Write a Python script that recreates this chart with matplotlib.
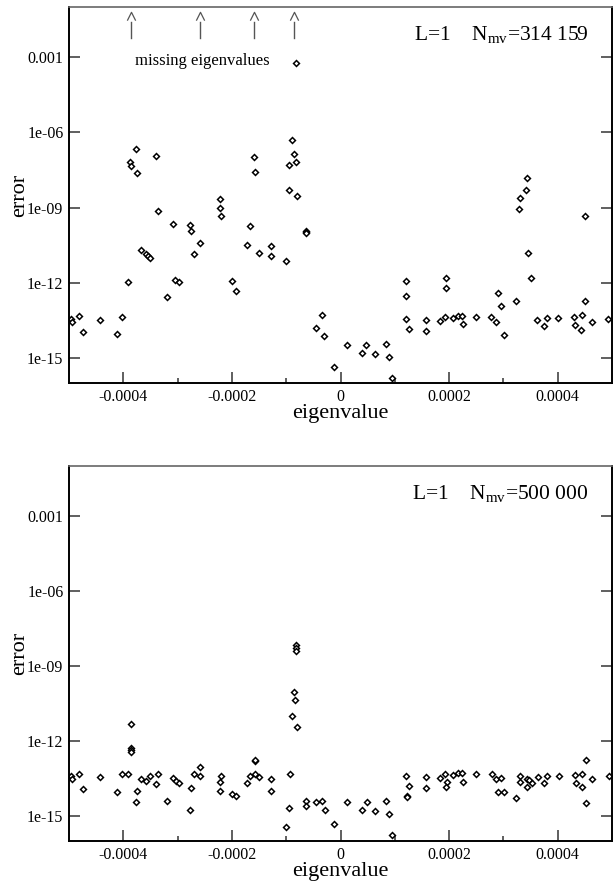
import numpy as np
import matplotlib
matplotlib.use('Agg')
import matplotlib.pyplot as plt
from matplotlib.path import Path
from matplotlib.ticker import FixedLocator, NullLocator
import matplotlib.transforms as mtransforms

plt.rcParams['font.family'] = ['Liberation Serif', 'DejaVu Serif']
plt.rcParams['mathtext.fontset'] = 'custom'
plt.rcParams['mathtext.rm'] = 'Liberation Serif'
plt.rcParams['axes.unicode_minus'] = False

# top panel, N_mv = 314 159
eig_top = [-8.24e-5, -3.76e-4, -3.39e-4, -3.87e-4, -3.86e-4, -3.75e-4, -1.60e-4, -1.58e-4,
           -8.85e-5, -8.48e-5, -8.24e-5, -9.40e-5, -9.50e-5, -8.00e-5, -2.21e-4, 3.43e-4,
           3.42e-4, 3.30e-4, -2.22e-4, -2.20e-4, -3.37e-4, -3.09e-4, -2.78e-4, -2.76e-4,
           -2.59e-4, -2.70e-4, -1.66e-4, -1.73e-4, -1.51e-4, -1.28e-4, -1.28e-4, -1.01e-4,
           -6.4e-5, -6.4e-5, -6.4e-5, -3.67e-4, -3.58e-4, -3.54e-4, -3.51e-4, -3.91e-4,
           -3.05e-4, -2.97e-4, -3.19e-4, -2.00e-4, -1.93e-4, -4.97e-4, -4.94e-4, -4.81e-4,
           -4.74e-4, -4.43e-4, -4.02e-4, -4.12e-4, -4.42e-5, -3.44e-5, -2.95e-5, -1.23e-5,
           1.23e-5, 3.93e-5, 4.73e-5, 6.39e-5, 8.35e-5, 8.9e-5, 9.4e-5, 1.21e-4,
           1.20e-4, 1.20e-4, 1.26e-4, 1.57e-4, 1.58e-4, 1.84e-4, 1.92e-4, 1.94e-4,
           1.95e-4, 2.07e-4, 2.16e-4, 2.23e-4, 2.26e-4, 2.49e-4, 2.78e-4, 2.86e-4,
           2.90e-4, 2.95e-4, 3.01e-4, 3.23e-4, 3.29e-4, 3.46e-4, 3.51e-4, 3.62e-4,
           3.74e-4, 3.81e-4, 4.01e-4, 4.30e-4, 4.32e-4, 4.45e-4, 4.42e-4, 4.51e-4,
           4.50e-4, 4.64e-4, 4.93e-4]
err_top = [6.0e-4, 2.2e-7, 1.17e-7, 6.3e-8, 4.4e-8, 2.3e-8, 1.05e-7, 2.5e-8,
           5.0e-7, 1.38e-7, 6.3e-8, 4.8e-8, 5.2e-9, 3.0e-9, 2.1e-9, 1.55e-8,
           5.0e-9, 2.45e-9, 9.5e-10, 4.4e-10, 7.1e-10, 2.3e-10, 2.0e-10, 1.17e-10,
           4.0e-11, 1.38e-11, 1.8e-10, 3.3e-11, 1.58e-11, 2.95e-11, 1.15e-11, 7.4e-12,
           1.15e-10, 1.07e-10, 1.0e-10, 2.1e-11, 1.45e-11, 1.2e-11, 9.8e-12, 1.07e-12,
           1.26e-12, 1.1e-12, 2.75e-13, 1.15e-12, 4.7e-13, 3.6e-14, 2.8e-14, 4.6e-14,
           1.1e-14, 3.2e-14, 4.3e-14, 8.9e-15, 1.55e-14, 5.1e-14, 7.6e-15, 4.4e-16,
           3.3e-15, 1.55e-15, 3.3e-15, 1.5e-15, 3.6e-15, 1.1e-15, 1.55e-16, 1.2e-12,
           2.9e-13, 3.5e-14, 1.4e-14, 1.17e-14, 3.3e-14, 3.0e-14, 4.4e-14, 1.58e-12,
           6.3e-13, 3.8e-14, 4.6e-14, 4.6e-14, 2.2e-14, 4.3e-14, 4.3e-14, 2.75e-14,
           3.8e-13, 1.23e-13, 8.1e-15, 1.9e-13, 8.9e-10, 1.58e-11, 1.6e-12, 3.3e-14,
           1.86e-14, 3.8e-14, 3.8e-14, 4.2e-14, 2.0e-14, 5.1e-14, 1.3e-14, 1.86e-13,
           4.4e-10, 2.75e-14, 3.7e-14]

# bottom panel, N_mv = 500 000
eig_bot = [-4.97e-4, -4.94e-4, -4.81e-4, -4.74e-4, -4.43e-4, -4.12e-4, -4.02e-4, -3.91e-4,
           -3.85e-4, -3.86e-4, -3.85e-4, -3.85e-4, -3.75e-4, -3.76e-4, -3.67e-4, -3.58e-4,
           -3.51e-4, -3.37e-4, -3.39e-4, -3.19e-4, -3.09e-4, -3.03e-4, -2.97e-4, -2.78e-4,
           -2.76e-4, -2.70e-4, -2.59e-4, -2.59e-4, -2.21e-4, -2.21e-4, -2.20e-4, -2.00e-4,
           -1.93e-4, -1.73e-4, -1.66e-4, -1.58e-4, -1.58e-4, -1.57e-4, -1.51e-4, -1.28e-4,
           -1.28e-4, -1.01e-4, -9.34e-5, -9.52e-5, -8.24e-5, -8.24e-5, -8.11e-5, -8.60e-5,
           -8.42e-5, -8.85e-5, -7.98e-5, -6.40e-5, -6.40e-5, -4.42e-5, -3.32e-5, -2.89e-5,
           -1.23e-5, 1.23e-5, 4.0e-5, 4.79e-5, 6.39e-5, 8.42e-5, 8.9e-5, 9.4e-5,
           1.20e-4, 1.22e-4, 1.23e-4, 1.27e-4, 1.58e-4, 1.57e-4, 1.84e-4, 1.92e-4,
           1.96e-4, 1.95e-4, 2.07e-4, 2.16e-4, 2.24e-4, 2.26e-4, 2.50e-4, 2.79e-4,
           2.86e-4, 2.96e-4, 2.90e-4, 3.02e-4, 3.23e-4, 3.30e-4, 3.30e-4, 3.43e-4,
           3.44e-4, 3.48e-4, 3.53e-4, 3.63e-4, 3.75e-4, 3.81e-4, 4.02e-4, 4.31e-4,
           4.34e-4, 4.45e-4, 4.44e-4, 4.52e-4, 4.52e-4, 4.64e-4, 4.95e-4]
err_bot = [3.9e-14, 2.95e-14, 4.8e-14, 1.17e-14, 3.5e-14, 9.3e-15, 4.7e-14, 4.7e-14,
           4.9e-12, 5.1e-13, 4.3e-13, 3.5e-13, 1.0e-14, 3.5e-15, 3.0e-14, 2.6e-14,
           4.1e-14, 4.9e-14, 1.9e-14, 3.9e-15, 3.4e-14, 2.5e-14, 2.1e-14, 1.8e-15,
           1.3e-14, 4.8e-14, 4.1e-14, 9.3e-14, 1.0e-14, 2.3e-14, 3.9e-14, 7.4e-15,
           6.3e-15, 2.1e-14, 4.0e-14, 1.6e-13, 1.8e-13, 4.8e-14, 3.6e-14, 3.1e-14,
           1.0e-14, 3.6e-16, 4.9e-14, 2.1e-15, 7.1e-9, 5.4e-9, 4.1e-9, 8.9e-11,
           4.3e-11, 1.02e-11, 3.6e-12, 4.0e-15, 2.6e-15, 3.5e-15, 4.0e-15, 1.8e-15,
           4.9e-16, 3.6e-15, 1.7e-15, 3.6e-15, 1.6e-15, 4.0e-15, 1.2e-15, 1.7e-16,
           3.9e-14, 6.3e-15, 5.6e-15, 1.55e-14, 3.6e-14, 1.3e-14, 3.3e-14, 4.8e-14,
           2.3e-14, 1.4e-14, 4.3e-14, 5.1e-14, 5.1e-14, 2.3e-14, 4.8e-14, 4.8e-14,
           3.0e-14, 3.2e-14, 9.1e-15, 9.1e-15, 5.2e-15, 3.9e-14, 2.2e-14, 1.5e-14,
           2.95e-14, 2.75e-14, 2.1e-14, 3.7e-14, 2.0e-14, 4.1e-14, 4.1e-14, 4.5e-14,
           2.1e-14, 4.7e-14, 1.4e-14, 1.8e-13, 3.4e-15, 2.95e-14, 4.0e-14]

# positions of the missing eigenvalues (arrows in top panel)
missing_eig = [-3.85e-4, -2.59e-4, -1.60e-4, -8.5e-5]

xticks = [-0.0004, -0.0002, 0, 0.0002, 0.0004]
xtick_labels = ['-0.0004', '-0.0002', '0', '0.0002', '0.0004']
xminor = [-0.0003, -0.0001, 0.0001, 0.0003]
yticks = [1e-15, 1e-12, 1e-9, 1e-6, 1e-3]
ytick_labels = ['1e-15', '1e-12', '1e-09', '1e-06', '0.001']

labels = [r'L=1    N$_{\mathrm{mv}}$=314 159', r'L=1    N$_{\mathrm{mv}}$=500 000']

fig = plt.figure(figsize=(6.14, 8.82), dpi=100)
ax1 = fig.add_axes([69/614, 1-383/882, 543/614, 376/882])
ax2 = fig.add_axes([69/614, 1-841/882, 543/614, 375/882])

for ax, xs, ys, lab in [(ax1, eig_top, err_top, labels[0]), (ax2, eig_bot, err_bot, labels[1])]:
    ax.plot(xs, ys, linestyle='none', marker='D', markersize=3.0,
            markerfacecolor='white', markeredgecolor='black', markeredgewidth=1.1)
    ax.set_yscale('log')
    ax.set_xlim(-0.0005, 0.0005)
    ax.set_ylim(1e-16, 1e-1)
    ax.xaxis.set_major_locator(FixedLocator(xticks))
    ax.set_xticklabels(xtick_labels)
    ax.xaxis.set_minor_locator(FixedLocator(xminor))
    ax.yaxis.set_major_locator(FixedLocator(yticks))
    ax.set_yticklabels(ytick_labels)
    ax.yaxis.set_minor_locator(NullLocator())
    ax.tick_params(axis='both', which='major', direction='in', length=8, width=1.2,
                   color='#444444', labelsize=11.5, pad=4)
    ax.tick_params(axis='x', which='minor', direction='in', length=3.8, width=1.2, color='#444444')
    ax.tick_params(axis='y', right=True)
    ax.tick_params(axis='x', top=False)
    for side in ['left', 'bottom', 'right']:
        ax.spines[side].set_linewidth(1.4)
        ax.spines[side].set_color('black')
    ax.spines['top'].set_linewidth(1.2)
    ax.spines['top'].set_color('#666666')
    ax.set_xlabel('eigenvalue', fontsize=16)
    ax.set_ylabel('error', fontsize=16)
    ax.xaxis.set_label_coords(0.5, -0.056)
    ax.yaxis.set_label_coords(-0.074, 0.5)
    ax.text(0.956, 0.912, lab, transform=ax.transAxes, ha='right', va='baseline', fontsize=15.5)

# arrows marking missing eigenvalues
trans = mtransforms.blended_transform_factory(ax1.transData, ax1.transAxes)
caret = Path([(-1, -1), (0, 1), (1, -1)], [Path.MOVETO, Path.LINETO, Path.LINETO])
for xm in missing_eig:
    ax1.plot([xm, xm], [0.917, 0.961], transform=trans, color='#555555', lw=1.0)
    ax1.plot([xm], [0.975], transform=trans, marker=caret, markersize=6,
             markerfacecolor='none', markeredgecolor='#555555', markeredgewidth=0.9,
             linestyle='none')
ax1.text(0.1215, 0.846, 'missing eigenvalues', transform=ax1.transAxes,
         ha='left', va='baseline', fontsize=12)

fig.savefig('out.png', dpi=100)
